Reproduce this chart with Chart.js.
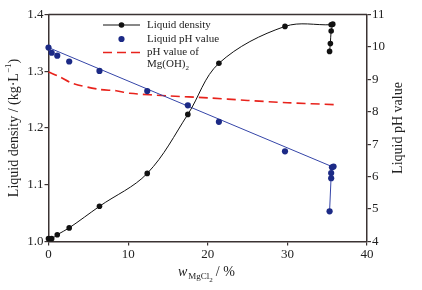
<!DOCTYPE html>
<html>
<head>
<meta charset="utf-8">
<script src="https://cdn.jsdelivr.net/npm/chart.js@4"></script>
<style>
  html, body { margin: 0; padding: 0; background: #fff; }
  #wrap { width: 422px; height: 290px; }
</style>
</head>
<body>
<div id="wrap"><canvas id="chart" width="422" height="290"></canvas></div>
<script>
// MgCl2 mass fraction (%) and measured liquid density (kg/L)
const wDensity = [0, 0.4, 1.1, 2.6, 6.4, 12.4, 17.5, 21.4, 29.7, 35.5, 35.7, 35.5, 35.4, 35.3];
const density = [1.005, 1.005, 1.012, 1.024, 1.062, 1.120, 1.224, 1.314, 1.379, 1.382, 1.383, 1.371, 1.349, 1.335];

// measured liquid pH
const wPh = [0, 0.4, 1.1, 2.6, 6.4, 12.4, 17.5, 21.4, 29.7, 35.6, 35.8, 35.5, 35.5, 35.3];
const ph = [9.98, 9.82, 9.73, 9.55, 9.26, 8.64, 8.20, 7.69, 6.78, 6.29, 6.31, 6.11, 5.95, 4.93];

// straight line drawn through the pH points
const fitW = [0, 35.7, 35.5, 35.3];
const fitPh = [9.98, 6.30, 6.03, 4.93];

// pH value of Mg(OH)2
const mgW = [0, 1.4, 3.0, 6.4, 8.5, 10.2, 15.2, 20, 25, 30, 36];
const mgPh = [9.23, 9.08, 8.88, 8.69, 8.65, 8.57, 8.49, 8.43, 8.35, 8.28, 8.22];

const xTicks = [0, 10, 20, 30, 40];
const densityTicks = [1.0, 1.1, 1.2, 1.3, 1.4];
const phTicks = [4, 5, 6, 7, 8, 9, 10, 11];

const AXIS = '#3b3333';
const FONT = '"Liberation Serif", "Times New Roman", serif';

const toPoints = (xs, ys) => xs.map((x, i) => ({ x: x, y: ys[i] }));

// frame top edge, axis titles and the legend
const decorations = {
    id: 'decorations',
    afterDraw(chart) {
        const ctx = chart.ctx;
        const a = chart.chartArea;
        ctx.save();
        ctx.strokeStyle = AXIS;
        ctx.lineWidth = 1.5;
        ctx.beginPath();
        ctx.moveTo(a.left, a.top);
        ctx.lineTo(a.right, a.top);
        ctx.stroke();

        ctx.fillStyle = '#222';
        ctx.textBaseline = 'middle';

        // left title
        ctx.save();
        ctx.translate(14, (a.top + a.bottom) / 2);
        ctx.rotate(-Math.PI / 2);
        const t1 = 'Liquid density / (kg·L';
        const sup = '−1';
        const t2 = ')';
        ctx.font = '14px ' + FONT;
        const w1 = ctx.measureText(t1).width;
        const w3 = ctx.measureText(t2).width;
        ctx.font = '9px ' + FONT;
        const w2 = ctx.measureText(sup).width;
        let x = -(w1 + w2 + w3) / 2;
        ctx.textAlign = 'left';
        ctx.font = '14px ' + FONT;
        ctx.fillText(t1, x, 0);
        x += w1;
        ctx.font = '9px ' + FONT;
        ctx.fillText(sup, x, -5);
        x += w2;
        ctx.font = '14px ' + FONT;
        ctx.fillText(t2, x, 0);
        ctx.restore();

        // right title
        ctx.save();
        ctx.translate(398, (a.top + a.bottom) / 2);
        ctx.rotate(-Math.PI / 2);
        ctx.font = '14px ' + FONT;
        ctx.textAlign = 'center';
        ctx.fillText('Liquid pH value', 0, 0);
        ctx.restore();

        // bottom title: w_MgCl2 / %
        ctx.textAlign = 'left';
        let bx = 178;
        const by = 272;
        ctx.font = 'italic 14px ' + FONT;
        ctx.fillText('w', bx, by);
        bx += ctx.measureText('w').width + 1;
        ctx.font = '9px ' + FONT;
        ctx.fillText('MgCl', bx, by + 5);
        bx += ctx.measureText('MgCl').width;
        ctx.font = '7px ' + FONT;
        ctx.fillText('2', bx, by + 8);
        bx += ctx.measureText('2').width + 3;
        ctx.font = '14px ' + FONT;
        ctx.fillText('/ %', bx, by);

        // legend
        const lx0 = 103, lx1 = 140, tx = 147;
        ctx.font = '11px ' + FONT;
        ctx.strokeStyle = '#111';
        ctx.lineWidth = 1;
        ctx.beginPath();
        ctx.moveTo(lx0, 25);
        ctx.lineTo(lx1, 25);
        ctx.stroke();
        ctx.fillStyle = '#111';
        ctx.beginPath();
        ctx.arc((lx0 + lx1) / 2, 25, 2.8, 0, Math.PI * 2);
        ctx.fill();
        ctx.fillStyle = '#222';
        ctx.fillText('Liquid density', tx, 25);

        ctx.fillStyle = '#1c2a86';
        ctx.beginPath();
        ctx.arc((lx0 + lx1) / 2, 39, 3.1, 0, Math.PI * 2);
        ctx.fill();
        ctx.fillStyle = '#222';
        ctx.fillText('Liquid pH value', tx, 39);

        ctx.strokeStyle = '#e8231c';
        ctx.lineWidth = 1.6;
        ctx.setLineDash([9, 5]);
        ctx.beginPath();
        ctx.moveTo(lx0, 52.5);
        ctx.lineTo(lx1, 52.5);
        ctx.stroke();
        ctx.setLineDash([]);
        ctx.fillText('pH value of', tx, 52.5);
        ctx.fillText('Mg(OH)', tx, 64.5);
        const mw = ctx.measureText('Mg(OH)').width;
        ctx.font = '7px ' + FONT;
        ctx.fillText('2', tx + mw, 68);
        ctx.restore();
    }
};

const axisGrid = {
    display: true,
    drawOnChartArea: false,
    drawTicks: true,
    tickLength: 4,
    color: AXIS,
    lineWidth: 1.2
};

const ctx = document.getElementById('chart').getContext('2d');
new Chart(ctx, {
    type: 'scatter',
    data: {
        datasets: [
            {
                label: 'Liquid density',
                data: toPoints(wDensity, density),
                yAxisID: 'y',
                showLine: true,
                tension: 0.35,
                borderColor: '#111',
                borderWidth: 1,
                backgroundColor: '#111',
                pointRadius: 2.8,
                pointBorderWidth: 0,
                clip: false
            },
            {
                label: 'Liquid pH value',
                data: toPoints(wPh, ph),
                yAxisID: 'y1',
                showLine: false,
                backgroundColor: '#1c2a86',
                borderColor: '#1c2a86',
                pointRadius: 3.1,
                pointBorderWidth: 0,
                clip: false
            },
            {
                label: 'pH fit',
                data: toPoints(fitW, fitPh),
                yAxisID: 'y1',
                showLine: true,
                borderColor: '#3545a8',
                borderWidth: 1,
                pointRadius: 0,
                clip: false
            },
            {
                label: 'pH value of Mg(OH)2',
                data: toPoints(mgW, mgPh),
                yAxisID: 'y1',
                showLine: true,
                tension: 0.3,
                borderColor: '#e8231c',
                borderWidth: 1.6,
                borderDash: [9, 5],
                pointRadius: 0,
                clip: false
            }
        ]
    },
    options: {
        responsive: false,
        animation: false,
        devicePixelRatio: 1,
        layout: { padding: { top: 14.5, left: 0, right: 0, bottom: 0 } },
        plugins: {
            legend: { display: false },
            tooltip: { enabled: false }
        },
        scales: {
            x: {
                type: 'linear',
                position: 'bottom',
                min: 0,
                max: 40,
                grid: axisGrid,
                border: { display: true, color: AXIS, width: 1.5 },
                afterBuildTicks: (s) => { s.ticks = xTicks.map(v => ({ value: v })); },
                afterFit: (s) => { s.height = 48.5; },
                ticks: { font: { family: FONT, size: 13 }, color: '#222', padding: 1, maxRotation: 0 }
            },
            y: {
                type: 'linear',
                position: 'left',
                min: 1.0,
                max: 1.4,
                grid: axisGrid,
                border: { display: true, color: AXIS, width: 1.5 },
                afterBuildTicks: (s) => { s.ticks = densityTicks.map(v => ({ value: v })); },
                afterFit: (s) => { s.width = 48.5; },
                ticks: {
                    font: { family: FONT, size: 13 },
                    color: '#222',
                    padding: 1,
                    callback: (v) => Number(v).toFixed(1)
                }
            },
            y1: {
                type: 'linear',
                position: 'right',
                min: 4,
                max: 11,
                grid: axisGrid,
                border: { display: true, color: AXIS, width: 1.5 },
                afterBuildTicks: (s) => { s.ticks = phTicks.map(v => ({ value: v })); },
                afterFit: (s) => { s.width = 55; },
                ticks: { font: { family: FONT, size: 13 }, color: '#222', padding: 1 }
            }
        }
    },
    plugins: [decorations]
});
</script>
</body>
</html>
